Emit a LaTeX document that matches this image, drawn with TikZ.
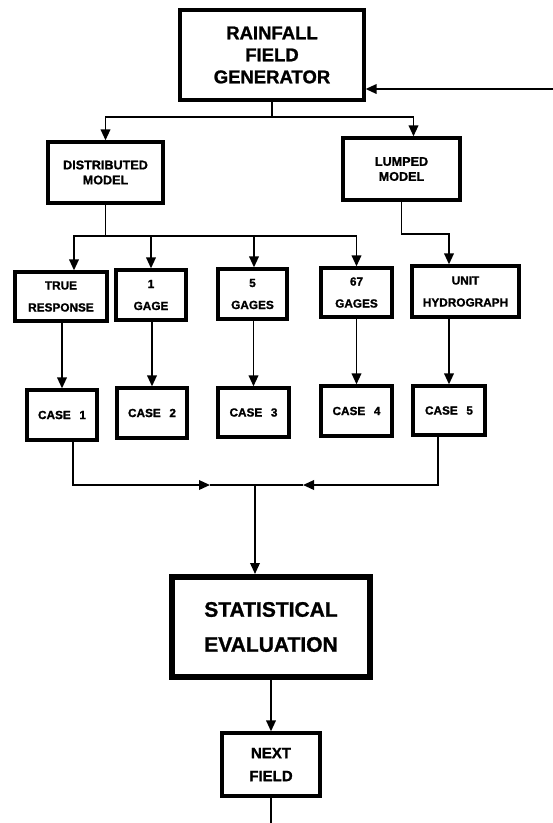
\documentclass[tikz,border=0pt]{standalone}
\usepackage{fontspec}
\setmainfont{Liberation Sans}[BoldFeatures={FakeBold=1.2}]
\usetikzlibrary{arrows.meta}
\begin{document}
\begin{tikzpicture}[x=1pt,y=-1pt,
  box/.style={draw, line width=3.2pt, align=center, inner sep=0pt},
  ftxt/.style={font=\bfseries\fontsize{12.6}{15}\selectfont},
  rtxt/.style={font=\bfseries\fontsize{11.8}{22}\selectfont},
  line/.style={line width=1.9pt},
  arr/.style={line width=1.9pt, -{Triangle[length=11pt,width=9.5pt]}}]
\useasboundingbox (0,0) rectangle (553,823);
% top
\node[box, minimum width=184pt, minimum height=90pt, font=\bfseries\fontsize{18.5}{22}\selectfont] (gen) at (272,55) {RAINFALL\\FIELD\\GENERATOR};
\node[box, ftxt, minimum width=115pt, minimum height=61pt] (dist) at (105.5,172.5) {DISTRIBUTED\\MODEL};
\node[box, ftxt, minimum width=117pt, minimum height=62pt] (lump) at (401.5,169) {LUMPED\\MODEL};
% row 3
\node[box, rtxt, minimum width=92pt, minimum height=49pt] (true) at (61,296.5) {TRUE\\RESPONSE};
\node[box, rtxt, minimum width=70pt, minimum height=50pt] (g1) at (151,295) {1\\GAGE};
\node[box, rtxt, minimum width=69pt, minimum height=50pt] (g5) at (252.5,294) {5\\GAGES};
\node[box, rtxt, minimum width=71pt, minimum height=49pt] (g67) at (356.5,292.5) {67\\GAGES};
\node[box, rtxt, minimum width=107pt, minimum height=51pt] (unit) at (465.5,291.5) {UNIT\\HYDROGRAPH};
% row 4
\node[box, rtxt, minimum width=70pt, minimum height=50pt] (c1) at (62,415) {CASE\hspace{0.45em} 1};
\node[box, rtxt, minimum width=70pt, minimum height=50pt] (c2) at (152,413) {CASE\hspace{0.45em} 2};
\node[box, rtxt, minimum width=71pt, minimum height=49pt] (c3) at (253.5,412.5) {CASE\hspace{0.45em} 3};
\node[box, rtxt, minimum width=71pt, minimum height=50pt] (c4) at (356.5,411) {CASE\hspace{0.45em} 4};
\node[box, rtxt, minimum width=72pt, minimum height=49pt] (c5) at (449,410.5) {CASE\hspace{0.45em} 5};
% bottom
\node[box, line width=6pt, minimum width=198pt, minimum height=100pt, font=\bfseries\fontsize{21}{35}\selectfont] (stat) at (271,627) {STATISTICAL\\EVALUATION};
\node[box, minimum width=98pt, minimum height=63pt, font=\bfseries\fontsize{15}{23}\selectfont] (next) at (271,764.5) {NEXT\\FIELD};
% connectors
\coordinate (fb) at (553,89);
\draw[arr] (fb) -- (fb -| gen.east);
\coordinate (j1) at (272,117);
\draw[line] (gen.south) -- (j1);
\draw[arr] (j1) -| (dist.north);
\draw[arr] (j1) -| ([xshift=12pt]lump.north);
\coordinate (j2) at (105.5,236);
\draw[line] (dist.south) -- (j2);
\draw[arr] (j2) -| ([xshift=13pt]true.north);
\draw[arr] (j2) -| (g1.north);
\draw[arr] (j2) -| ([xshift=1.5pt]g5.north);
\draw[arr] (j2) -| (g67.north);
\draw[arr] (lump.south) |- (449,234) -| (unit.north -| c5.north);
\draw[arr] (c1.north |- true.south) -- (c1.north);
\draw[arr] (c2.north |- g1.south) -- (c2.north);
\draw[arr] (c3.north |- g5.south) -- (c3.north);
\draw[arr] (c4.north |- g67.south) -- (c4.north);
\draw[arr] (c5.north |- unit.south) -- (c5.north);
\coordinate (m) at (255,485);
\coordinate (la) at (210,485);
\coordinate (ra) at (303,485);
\draw[arr] ([xshift=11pt]c1.south) |- (la);
\draw[line] (la) -- (m);
\draw[arr] ([xshift=-11pt]c5.south) |- (ra);
\draw[line] (ra) -- (m);
\draw[arr] (m) -- (m |- stat.north);
\draw[arr] (stat.south) -- (next.north);
\coordinate (endp) at (271,823);
\draw[line] (next.south) -- (endp);
\end{tikzpicture}
\end{document}
